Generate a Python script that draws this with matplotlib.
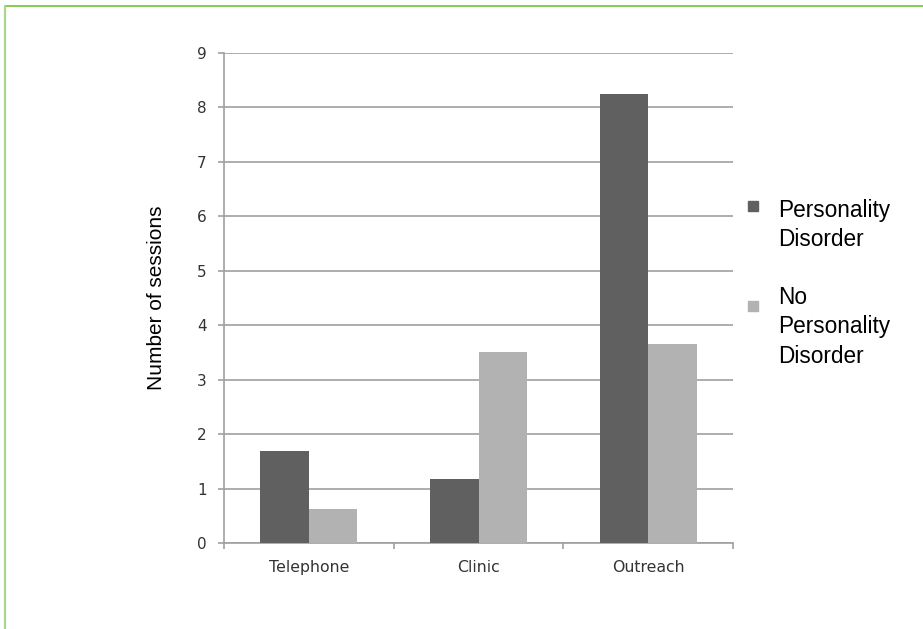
import matplotlib
matplotlib.use('Agg')
import matplotlib.pyplot as plt
import numpy as np
from matplotlib.lines import Line2D
from matplotlib.patches import Rectangle

# data
categories = ['Telephone', 'Clinic', 'Outreach']
pd_sessions = [1.69, 1.18, 8.24]
no_pd_sessions = [0.62, 3.51, 3.65]
series_labels = ['Personality\nDisorder', 'No\nPersonality\nDisorder']
y_ticks = list(range(0, 10))

DARK = '#606060'
LIGHT = '#b2b2b2'
GRID = '#a0a0a0'

fig = plt.figure(figsize=(9.23, 6.29), dpi=100)
ax = fig.add_axes([224 / 923, 1 - 543 / 629, 509 / 923, 490 / 629])

x = np.arange(len(categories))
w = 0.286
ax.bar(x - w / 2, pd_sessions, width=w, color=DARK, zorder=3)
ax.bar(x + w / 2, no_pd_sessions, width=w, color=LIGHT, zorder=3)

ax.set_xlim(-0.5, len(categories) - 0.5)
ax.set_ylim(0, 9)
ax.set_yticks(y_ticks)
ax.yaxis.grid(True, color=GRID, linewidth=1.2, zorder=0)
ax.set_axisbelow(True)

for s in ('top', 'right'):
    ax.spines[s].set_visible(False)
for s in ('left', 'bottom'):
    ax.spines[s].set_color(GRID)
    ax.spines[s].set_linewidth(1.2)

ax.set_xticks(x)
ax.set_xticklabels(categories)
ax.set_xticks(np.arange(len(categories) + 1) - 0.5, minor=True)
ax.tick_params(axis='x', which='major', length=0, pad=12,
               labelsize=11.3, labelcolor='#333333')
ax.tick_params(axis='x', which='minor', length=4.5, width=1.2, color=GRID)
ax.tick_params(axis='y', length=4.5, width=1.2, color=GRID, pad=8,
               labelsize=11, labelcolor='#333333')

ax.set_ylabel('Number of sessions', fontsize=15, family='Liberation Sans',
              labelpad=22)

# legend drawn by hand to mimic the Excel layout
leg_items = [(DARK, series_labels[0], 206, 211),
             (LIGHT, series_labels[1], 306, 298)]
for color, label, my, ty in leg_items:
    fig.patches.append(Rectangle((748 / 923, 1 - (my + 5) / 629), 10 / 923, 10 / 629,
                                 transform=fig.transFigure, color=color))
    fig.text(778 / 923, 1 - (ty - 12) / 629, label, fontsize=16.3,
             family='Liberation Sans', va='top', ha='left', linespacing=1.35)

# green frame
fig.lines.append(Line2D([4.5 / 923, 1], [1 - 6 / 629, 1 - 6 / 629],
                        transform=fig.transFigure, color='#7ac943', linewidth=1.3))
fig.lines.append(Line2D([4.5 / 923, 4.5 / 923], [0, 1 - 6 / 629],
                        transform=fig.transFigure, color='#a8d890', linewidth=1.6))

fig.savefig('out.png', dpi=100)
